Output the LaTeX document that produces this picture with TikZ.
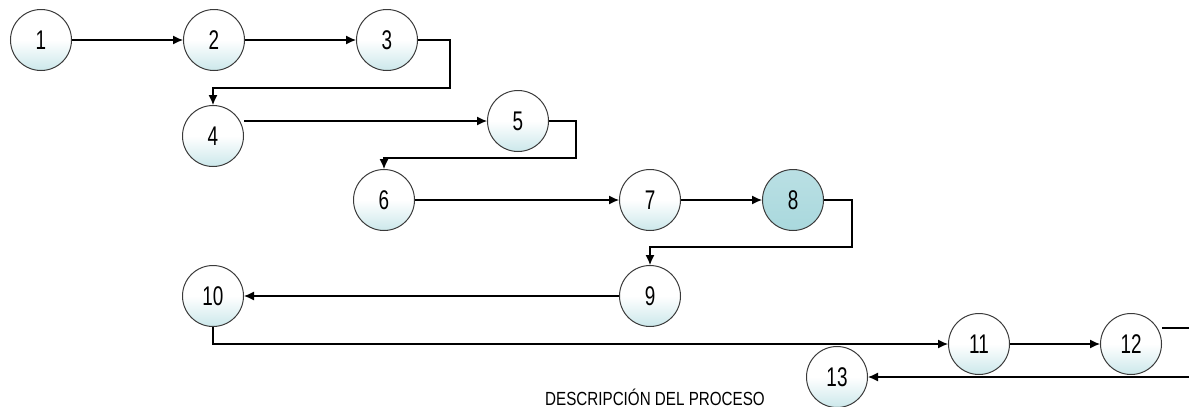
\documentclass[tikz,border=0pt]{standalone}
\usepackage{fontspec}
\usetikzlibrary{arrows.meta,calc}
\newfontfamily\narrowfont[FakeStretch=0.7]{Liberation Sans}
\newfontfamily\capfont[FakeStretch=0.8]{Liberation Sans}
\definecolor{tealfill}{HTML}{A9D8DD}
\definecolor{rimgray}{HTML}{3A3A3A}
\pgfdeclareverticalshading{bubble}{100bp}{color(0bp)=(tealfill); color(25bp)=(tealfill!60!white); color(50bp)=(white); color(100bp)=(white)}
\tikzset{
  procnode/.style={circle, draw=rimgray, line width=1pt, minimum size=61pt, inner sep=0pt,
    shading=bubble, font=\narrowfont\fontsize{27}{27}\selectfont},
  darknode/.style={procnode, shading=axis, top color=tealfill!80!white, bottom color=tealfill},
  arr/.style={line width=1.2pt, -{Latex[length=10pt,width=9pt]}},
  ln/.style={line width=1.2pt},
  caption/.style={font=\capfont\fontsize{19}{19}\selectfont, inner sep=0pt}
}
\begin{document}
\begin{tikzpicture}[x=1pt,y=-1pt]
\useasboundingbox (0,0) rectangle (1189,407);
\node[procnode] (n1) at (41,40) {1};
\node[procnode] (n2) at (214,40) {2};
\node[procnode] (n3) at (387,40) {3};
\node[procnode] (n4) at (213,136) {4};
\node[procnode] (n5) at (518,121) {5};
\node[procnode] (n6) at (384,200) {6};
\node[procnode] (n7) at (650,200) {7};
\node[darknode] (n8) at (793,200) {8};
\node[procnode] (n9) at (650,296) {9};
\node[procnode] (n10) at (213,296) {10};
\node[procnode] (n11) at (979,344) {11};
\node[procnode] (n12) at (1131,344) {12};
\node[procnode] (n13) at (837,377) {13};
\node[caption] (cap) at (655,397) {DESCRIPCIÓN DEL PROCESO};
\coordinate (e1) at (1189,328);
\coordinate (e2) at (1189,377);

\draw[arr] (n1) -- (n2);
\draw[arr] (n2) -- (n3);
\draw[arr] (n3.east) -- (450,40) -- (450,88) -| (n4.north);
\draw[arr] (n4.east |- n5.west) -- (n5.west);
\draw[arr] (n5.east) -- (576,121) -- (576,158) -| (n6.north);
\draw[arr] (n6) -- (n7);
\draw[arr] (n7) -- (n8);
\draw[arr] (n8.east) -- (852,200) -- (852,247) -| (n9.north);
\draw[arr] (n9) -- (n10);
\draw[arr] (n10.south) |- (n11.west);
\draw[arr] (n11) -- (n12);
\draw[ln] (n12.east |- e1) -- (e1);
\draw[arr] (e2) -- (n13.east);
\end{tikzpicture}
\end{document}
